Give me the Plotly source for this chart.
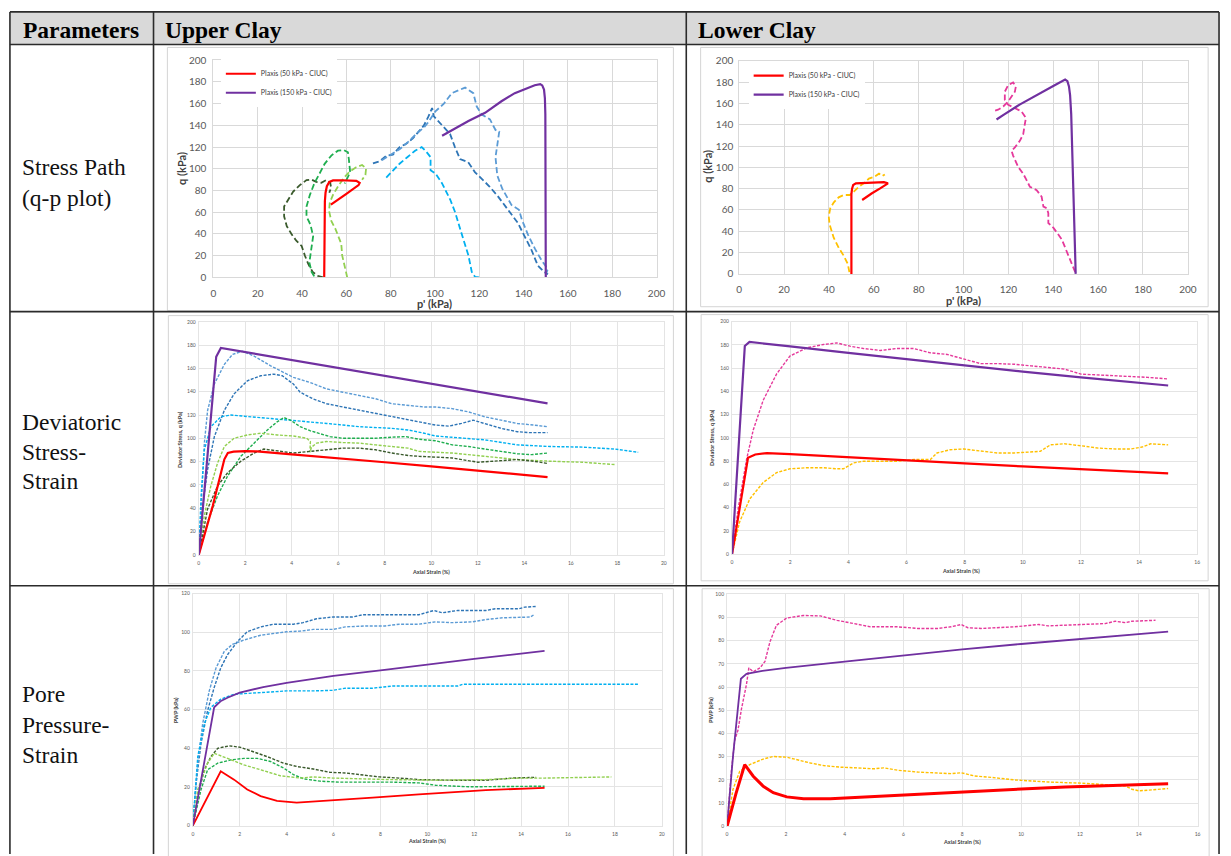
import plotly.graph_objects as go

W, H = 1231, 856

# ---------------- Upper Clay : stress path (p', q) ----------------
up_sp_plaxis50_p = [50, 50, 50, 50.1, 50.3, 50.6, 51.2, 52.3, 54, 58, 62, 64.5, 66, 65.5, 60, 56, 53]
up_sp_plaxis50_q = [0, 20, 40, 60, 70, 78, 84, 88, 89.3, 89.5, 89.5, 89, 87, 85, 77, 71, 67]
up_sp_plaxis150_p = [150, 150, 150, 149.9, 149.8, 149.6, 149.2, 148.4, 147.5, 145, 141.9, 136, 130, 122.6, 115.1, 107.6, 103.2]
up_sp_plaxis150_q = [0, 40, 80, 120, 150, 165, 173, 176.8, 178, 177, 174.3, 169.7, 162.2, 151.6, 144, 135, 130.4]
up_sp_dkgreen_p = [49.5, 47, 44.8, 42.8, 41.3, 39.8, 37.5, 35.3, 33.1, 31.9, 31.9, 33.8, 36.0, 39.0, 42.0, 44.2, 46.4, 48.7, 50.9, 52.7, 53.1, 52.3]
up_sp_dkgreen_q = [0, 1.5, 5, 12.4, 20, 29, 33.6, 39.7, 47.2, 56.3, 65.4, 71.4, 79, 85, 89.6, 90.2, 88, 87.1, 89.6, 87.1, 82.9, 78]
up_sp_green_p = [45.5, 44.3, 43.3, 44.3, 45.0, 43.8, 42.0, 42.0, 43.5, 45.5, 47.7, 50.2, 53.2, 56.2, 58.9, 60.7, 61.1, 61.4, 61.7, 60.7, 59.2]
up_sp_green_q = [1, 5, 13.8, 25.9, 38, 48.6, 56.1, 65.2, 75.8, 86.4, 95.5, 104.6, 112.2, 116.7, 117.3, 115.2, 109.1, 101.6, 97.1, 92.5, 86.5]
up_sp_ltgreen_p = [60.4, 59.3, 58.1, 57.7, 56.6, 55.1, 53.2, 52.2, 52.5, 54.0, 56.2, 58.8, 61.4, 64.4, 67.1, 68.9, 68.6, 67.1]
up_sp_ltgreen_q = [0, 10.6, 20.3, 30.9, 36.9, 44.5, 52, 61.1, 68.7, 76.2, 83.8, 91.4, 97.4, 101.4, 103.5, 100.5, 94.4, 89.9]
up_sp_blue_p = [72, 75, 78, 81, 84, 87, 90, 93, 95, 97, 98.7, 99.4, 103, 106.8, 109, 111.3, 115, 118, 121, 124.7, 128.5, 133, 137.4, 140.4, 143.4, 146.4, 149.3, 151]
up_sp_blue_q = [105, 107, 112, 113, 120, 123, 128, 135, 140, 148, 156, 148.6, 141, 132, 120, 109, 106, 97, 91, 83.5, 74.4, 62.3, 50.2, 38, 26, 11, 5, 3]
up_sp_ltblue_p = [76, 80, 84, 88, 92, 95, 97, 100.2, 104, 107.6, 111, 113.6, 117.3, 118.8, 121.1, 124.8, 127.3, 129, 128.5, 127.3, 128.1, 130.3, 134.5, 137.9, 139.2, 141.9, 145.2, 148.2, 150.9, 150.1]
up_sp_ltblue_q = [108, 113, 118, 125, 133, 138, 143, 153, 160, 169.7, 173, 174.8, 169.7, 157.6, 150, 145.5, 135.8, 134.3, 127.3, 110.7, 94, 82, 66.8, 62.3, 53.2, 39.6, 26, 15.4, 7.8, 3]
up_sp_cyan_p = [78, 81, 84, 87.5, 91, 94, 96, 98, 98, 100.2, 103.2, 106.9, 109.2, 111.4, 113.6, 115.1, 116.6, 118.1, 120]
up_sp_cyan_q = [92, 98.6, 104.7, 110.7, 116.7, 120, 116, 110.8, 98.7, 95.7, 86.6, 71.5, 59.4, 44.3, 29.2, 20.1, 5, 0.5, 0]

# ---------------- Lower Clay : stress path (p', q) ----------------
lo_sp_plaxis50_p = [50, 50, 49.9, 50, 50.3, 50.8, 52, 56, 62, 64.5, 66.3, 63, 59, 54.8]
lo_sp_plaxis50_q = [0, 30, 60, 75, 80, 83.5, 85, 85.6, 86, 86.1, 85, 80.5, 75.5, 69.4]
lo_sp_plaxis150_p = [150, 149.5, 149, 148.5, 148, 147.5, 147, 146.3, 145.3, 140, 133, 125, 118, 114.7]
lo_sp_plaxis150_q = [0, 40, 80, 120, 150, 168, 176, 181, 182.5, 176.5, 168.5, 159, 149.5, 145]
lo_sp_orange_p = [49.1, 48.4, 46.6, 44.3, 42.1, 40.3, 39.9, 40.6, 42.1, 44.3, 46.6, 49.3, 51.1, 53.3, 56.3, 57.8, 60.1, 62.3, 63.8, 64.9]
lo_sp_orange_q = [1.6, 9.3, 17, 24.7, 34, 46.3, 54, 61.7, 67, 71.9, 74.1, 74.1, 77.2, 81.8, 86.4, 89.5, 91, 94.1, 91.9, 93.4]
lo_sp_magenta_p = [149.8, 146.8, 143.8, 140.1, 137.8, 137.8, 137.1, 135.6, 134.8, 132.6, 129.6, 128.1, 126.6, 124.4, 122.9, 122.1, 121.4, 122.9, 125.1, 126.6, 127.3, 127.8, 125.8, 122.9, 119.9, 118.4, 118.4, 119.9, 122.1, 123.3, 122.9, 121.4, 119.9, 117.7, 115.4, 113.2]
lo_sp_magenta_q = [1.6, 17, 32.4, 43.2, 47.8, 57, 61.7, 63.2, 72.5, 78.7, 81.8, 88, 94.1, 100.3, 106.5, 111.1, 115.7, 118.8, 124.9, 131.1, 140.3, 146.5, 152.6, 155.7, 158.8, 163.4, 171.1, 177.3, 179.8, 175.8, 171.1, 166.5, 161.9, 157.2, 154.2, 152.6]

# ---------------- Upper Clay : deviator stress vs axial strain ----------------
up_ds_plaxis50_e = [0, 0.3, 0.6, 0.9, 1.1, 1.25, 1.5, 2, 2.5, 4, 6, 8, 10, 12, 15]
up_ds_plaxis50_q = [0, 20, 42, 66, 82, 87.5, 88.6, 89, 88.8, 86.3, 83.2, 79.5, 76, 72.2, 66.8]
up_ds_plaxis150_e = [0, 0.3, 0.6, 0.75, 0.95, 2, 4, 6, 8, 10, 12, 15]
up_ds_plaxis150_q = [0, 70, 140, 170, 177.5, 174, 167.2, 160.5, 153.8, 147, 140.3, 130]
up_ds_ltblue_e = [0, 0.1, 0.24, 0.38, 0.67, 1.1, 1.45, 1.88, 2.38, 3.09, 3.8, 4.07, 4.78, 5.5, 6.2, 6.91, 7.6, 8.3, 9.0, 9.7, 10.18, 10.89, 11.6, 12.3, 13.0, 13.7, 14.4, 15]
up_ds_ltblue_q = [0, 39.5, 95.9, 124, 146.6, 163.5, 172, 174.8, 170.6, 162.2, 155.1, 152.3, 148, 142.4, 139.6, 136.8, 134, 129.7, 128.3, 126.9, 126.9, 125.5, 122.7, 118.5, 115.6, 112.8, 111.4, 110]
up_ds_blue_e = [0, 0.15, 0.38, 0.67, 1.1, 1.52, 2.09, 2.66, 3.23, 3.59, 4.07, 4.36, 4.9, 5.5, 6.2, 6.9, 7.6, 8.3, 9.0, 9.7, 10.18, 10.75, 11.3, 11.8, 12.3, 13.0, 13.7, 14.2, 15]
up_ds_blue_q = [0, 39.5, 73.3, 101.5, 124.1, 138.2, 149.4, 153.7, 155.1, 153.7, 146.6, 139.6, 134, 129.7, 126.9, 124.1, 121.3, 119, 115.6, 112.8, 111.4, 110.5, 112.8, 115.6, 112.8, 108.6, 105.7, 104.9, 104.9]
up_ds_cyan_e = [0, 0.1, 0.24, 0.52, 0.95, 1.38, 1.95, 2.66, 3.37, 4.07, 4.78, 5.5, 6.2, 6.9, 8.3, 9.0, 9.7, 10.18, 10.9, 12.3, 13.7, 15.1, 16.5, 17.9, 18.9]
up_ds_cyan_q = [0, 50.8, 90.2, 110, 118.5, 120, 119, 117.8, 117, 115.6, 114.2, 112.8, 111.4, 110, 108.6, 107.2, 104.4, 102, 100.9, 98.7, 94.4, 93, 92.5, 90.8, 88]
up_ds_green_e = [0, 0.38, 0.81, 1.24, 1.81, 2.38, 2.95, 3.37, 3.66, 3.94, 4.36, 4.78, 5.2, 5.64, 6.2, 6.9, 7.6, 8.3, 8.9, 9.47, 10.18, 10.9, 11.6, 12.3, 13.0, 13.7, 14.3, 15]
up_ds_green_q = [0, 28.2, 50.8, 67.7, 84.6, 95.9, 107.2, 114.2, 117.8, 115.6, 110, 106.6, 104.4, 101.5, 100.1, 100.1, 100.1, 101, 101.5, 99.2, 98, 94.4, 93, 90.8, 88.8, 86.8, 86, 87.4]
up_ds_ltgreen_e = [0, 0.24, 0.52, 0.81, 1.1, 1.52, 2.09, 2.66, 3.37, 4.07, 4.64, 4.8, 4.78, 4.85, 5.07, 5.5, 6.2, 6.9, 7.6, 8.3, 9.0, 9.47, 10.9, 12.3, 13.7, 15.1, 16.5, 17.9]
up_ds_ltgreen_q = [0, 33.8, 59.2, 78.9, 93, 100.1, 102.9, 104.4, 102.9, 102, 100.1, 97.3, 88, 92.5, 95.9, 97.3, 96.4, 95.9, 94.4, 93, 91.6, 88.8, 87.4, 84.6, 81.8, 80.4, 79.5, 77.5]
up_ds_dkgreen_e = [0, 0.38, 0.81, 1.24, 1.81, 2.38, 2.8, 3.23, 3.66, 4.07, 4.78, 5.5, 6.2, 6.9, 7.6, 8.3, 9.0, 9.47, 10.9, 12.0, 13.0, 13.7, 14.4, 15]
up_ds_dkgreen_q = [0, 39.5, 59.2, 70.5, 80.4, 87.4, 90.8, 89.6, 88, 87.4, 88.8, 90.2, 91.6, 91.6, 90.2, 87.4, 85.3, 84.6, 83.2, 79.5, 81.2, 81.8, 80.4, 78.4]

# ---------------- Lower Clay : deviator stress vs axial strain ----------------
lo_ds_plaxis50_e = [0, 0.2, 0.4, 0.55, 0.8, 1.2, 2, 4, 6, 8, 10, 12, 15]
lo_ds_plaxis50_q = [0, 30, 63, 82.8, 85.7, 86.9, 86, 83.2, 80.5, 78, 75.5, 73, 69.5]
lo_ds_plaxis150_e = [0, 0.2, 0.44, 0.6, 1, 2, 4, 6, 8, 10, 12, 14, 15]
lo_ds_plaxis150_q = [0, 85, 179, 182.5, 181.5, 178.6, 173, 167.5, 161.9, 157, 152, 147.5, 145]
lo_ds_magenta_e = [0, 0.21, 0.5, 0.73, 1.07, 1.53, 1.99, 2.57, 3.14, 3.6, 4.06, 4.52, 5.1, 5.67, 6.25, 6.82, 7.4, 7.97, 8.55, 9.13, 9.7, 10.28, 10.85, 11.43, 12.0, 12.6, 13.2, 13.7, 14.3, 15]
lo_ds_magenta_q = [0, 39, 81.4, 106.8, 132.2, 154.8, 170.3, 177.4, 180.2, 181.6, 178.8, 176.8, 175.1, 176.8, 176.8, 173.1, 171.7, 167.5, 163.8, 163.8, 163.3, 161.9, 160.5, 159.1, 154.8, 154.2, 153.4, 152.5, 152, 150.6]
lo_ds_orange_e = [0, 0.26, 0.61, 1.07, 1.53, 1.99, 2.57, 3.14, 3.6, 3.83, 4.18, 4.52, 5.1, 5.67, 6.25, 6.82, 7.05, 7.5, 7.97, 8.55, 9.13, 9.7, 10.28, 10.6, 10.95, 11.43, 12.0, 12.6, 13.2, 13.7, 14.1, 14.4, 15]
lo_ds_orange_q = [0, 27.7, 47.5, 61.6, 70.1, 73.4, 74.3, 74.3, 73.4, 73.4, 78.5, 79.9, 79.9, 79.9, 81.4, 81.4, 87, 89.8, 90.4, 88.4, 87, 87, 87.6, 88.4, 94, 94.9, 93.2, 91.2, 90.4, 90.4, 92.1, 94.9, 94]

# ---------------- Upper Clay : pore water pressure vs axial strain ----------------
up_pw_plaxis50_e = [0, 0.6, 1.19, 1.76, 2.32, 2.89, 3.59, 4.43, 5.7, 7.67, 9.64, 11.05, 12.5, 15]
up_pw_plaxis50_u = [0, 14, 28.1, 23.8, 18.7, 15.3, 12.8, 11.9, 12.8, 14.5, 16.2, 17.3, 18.4, 19.5]
up_pw_plaxis150_e = [0, 0.5, 0.91, 1.2, 1.5, 2, 3, 4, 5, 6, 8, 10, 12, 14, 15]
up_pw_plaxis150_u = [0, 34, 61.2, 64.5, 66.3, 68.8, 71.7, 73.9, 75.8, 77.5, 80.3, 83.4, 86.3, 89, 90.4]
up_pw_blue_e = [0, 0.14, 0.35, 0.63, 0.91, 1.19, 1.48, 1.9, 2.32, 2.89, 3.45, 4.29, 4.7, 5.27, 5.98, 6.8, 7.25, 8.5, 9.64, 10.28, 10.63, 11.3, 12.5, 12.9, 13.9, 14.15, 14.64]
up_pw_blue_u = [0, 22, 42.5, 59.5, 71.4, 81.6, 88.4, 95.2, 100.3, 102.8, 104.2, 104.2, 105, 107, 107.9, 107.9, 109.1, 109.1, 109.1, 111.3, 110.1, 111.3, 111.3, 112.2, 112.2, 113, 113.4]
up_pw_ltblue_e = [0, 0.21, 0.42, 0.7, 0.99, 1.34, 1.69, 2.18, 2.89, 3.45, 4.01, 4.58, 5.14, 5.98, 6.5, 7.4, 8.2, 8.8, 9.64, 10.35, 11.05, 11.9, 12.5, 13.2, 13.9, 14.4, 14.57]
up_pw_ltblue_u = [0, 32.4, 52.7, 69.7, 81.6, 90.1, 93.8, 96, 98.5, 99.4, 100.3, 100.6, 101.5, 101.5, 102.8, 103.3, 103.3, 104.2, 104.2, 105.4, 105, 105.4, 106.6, 107.5, 107.9, 107.9, 109.3]
up_pw_cyan_e = [0, 0.21, 0.49, 0.77, 1.19, 1.76, 2.89, 4.01, 5.14, 5.98, 6.5, 7.67, 8.5, 9.9, 11.3, 11.5, 15, 19]
up_pw_cyan_u = [0, 35.7, 52.7, 61.2, 65.4, 68, 68.8, 69.7, 69.7, 70, 71.1, 71.1, 72.2, 72.2, 72.2, 73.1, 73.1, 73.1]
up_pw_dkgreen_e = [0, 0.21, 0.49, 0.77, 1.06, 1.55, 2.04, 2.6, 3.17, 3.87, 4.43, 5.14, 5.84, 6.55, 7.25, 7.95, 8.8, 9.64, 11.05, 12.5, 13.6, 14.64]
up_pw_dkgreen_u = [0, 15.3, 28.9, 35.7, 40, 41.3, 40.5, 38.3, 35.7, 32.3, 30.6, 29.3, 27.6, 27.2, 26.3, 25.2, 24.6, 23.8, 23.5, 23.5, 24.6, 25]
up_pw_green_e = [0, 0.35, 0.63, 1.06, 1.62, 2.18, 2.75, 3.31, 3.87, 4.29, 4.72, 5.42, 6.27, 7.1, 8.5, 9.64, 10.35, 11.76, 13.9, 15]
up_pw_green_u = [0, 18.7, 28.9, 32.3, 34, 34.8, 34.8, 33.2, 29.8, 26.4, 24.2, 23, 22.5, 22.5, 22.5, 22.1, 20.9, 20.1, 20.1, 20.4]
up_pw_ltgreen_e = [0, 0.21, 0.63, 0.91, 1.48, 2.18, 2.89, 3.73, 4.58, 5.14, 5.98, 7.1, 8.5, 10.5, 12.5, 13.9, 15, 17.85]
up_pw_ltgreen_u = [0, 18.7, 32.3, 37.4, 34.8, 31.4, 28.9, 25.8, 24.6, 25.2, 24.6, 24.1, 23.8, 23.5, 23.8, 24.6, 24.6, 25.2]

# ---------------- Lower Clay : pore water pressure vs axial strain ----------------
lo_pw_plaxis50_e = [0, 0.3, 0.6, 0.89, 1.23, 1.57, 2.03, 2.6, 3.51, 4.65, 6.93, 9.22, 11.5, 15]
lo_pw_plaxis50_u = [0, 14, 26.6, 21.6, 17.3, 14.5, 12.7, 11.9, 11.9, 12.7, 14.2, 15.6, 17, 18.4]
lo_pw_plaxis150_e = [0, 0.2, 0.47, 0.66, 1.2, 2, 4, 6, 8, 10, 12, 14, 15]
lo_pw_plaxis150_u = [0, 30, 63.6, 65.7, 67, 68.3, 71, 73.7, 76.3, 78.6, 80.8, 82.9, 83.9]
lo_pw_magenta_e = [0, 0.15, 0.26, 0.37, 0.49, 0.66, 0.74, 0.89, 1.12, 1.29, 1.46, 1.68, 2.03, 2.6, 3.17, 3.74, 4.31, 4.88, 5.79, 6.48, 7.16, 7.62, 7.96, 8.19, 8.64, 9.79, 10.35, 10.6, 10.92, 12.08, 12.86, 13.2, 13.55, 13.77, 14.57]
lo_pw_magenta_u = [0, 24.4, 37.1, 41.4, 50.6, 61.2, 68.3, 66.6, 68.3, 71.1, 79.6, 86.7, 89.8, 90.9, 90.7, 88.8, 87.4, 86, 86, 85.3, 85.3, 86, 87, 85.6, 85.3, 86, 86.7, 87, 86.4, 87, 87.4, 88.4, 87.8, 88.4, 88.8]
lo_pw_orange_e = [0, 0.2, 0.43, 0.77, 1.23, 1.57, 2.03, 2.37, 2.83, 3.28, 3.85, 4.42, 4.99, 5.33, 5.79, 6.48, 7.16, 7.62, 7.96, 8.42, 8.99, 9.79, 10.92, 12.08, 13.2, 13.55, 13.77, 14.0, 14.35, 15]
lo_pw_orange_u = [0, 15.9, 23.7, 26.6, 29, 30.1, 29.8, 28.7, 27.3, 26.2, 25.5, 25.2, 24.8, 25.2, 24.2, 23.4, 22.8, 22.7, 23.1, 21.7, 21.1, 20, 19.1, 18.6, 17.7, 17.4, 16, 15.3, 15.6, 16.3]

# ---------------- Axis ticks and text ----------------
sp_ticks = list(range(0, 201, 20))
ds_q_ticks = list(range(0, 201, 20))
strain_ticks_upper = list(range(0, 21, 2))
strain_ticks_lower = list(range(0, 17, 2))
pw_ticks_upper = list(range(0, 121, 20))
pw_ticks_lower = list(range(0, 101, 10))

header_labels = ["Parameters", "Upper Clay", "Lower Clay"]
row_labels = [["Stress Path", "(q-p plot)"],
              ["Deviatoric", "Stress-", "Strain"],
              ["Pore", "Pressure-", "Strain"]]
legend_names = ["Plaxis (50 kPa - CIUC)", "Plaxis (150 kPa - CIUC)"]

RED = "#ff0000"
PURPLE = "#7030a0"
DKGREEN = "#3a5a2c"
GREEN = "#1fae4f"
LTGREEN = "#92d050"
BLUE = "#2e75b6"
LTBLUE = "#5b9bd5"
CYAN = "#00b0f0"
ORANGE = "#ffc000"
MAGENTA = "#e5399b"


def px(x):
    return x / W


def py(y):
    return 1 - y / H


fig = go.Figure()


def add(x, y, color, width, dash, n, name=None, legend=None):
    suffix = "" if n == 1 else str(n)
    fig.add_trace(go.Scatter(
        x=x, y=y, mode="lines", xaxis="x" + suffix, yaxis="y" + suffix,
        line=dict(color=color, width=width, dash=dash),
        name=name or "", showlegend=name is not None,
        legend=legend or "legend", hoverinfo="skip"))


SP_DASH = "6px,3px"
ST_DASH = "3px,1.5px"

# panel 1: upper clay stress path
add(up_sp_dkgreen_p, up_sp_dkgreen_q, DKGREEN, 1.8, SP_DASH, 1)
add(up_sp_green_p, up_sp_green_q, GREEN, 1.8, SP_DASH, 1)
add(up_sp_ltgreen_p, up_sp_ltgreen_q, LTGREEN, 1.8, SP_DASH, 1)
add(up_sp_blue_p, up_sp_blue_q, BLUE, 1.8, SP_DASH, 1)
add(up_sp_ltblue_p, up_sp_ltblue_q, LTBLUE, 1.8, SP_DASH, 1)
add(up_sp_cyan_p, up_sp_cyan_q, CYAN, 1.8, SP_DASH, 1)
add(up_sp_plaxis50_p, up_sp_plaxis50_q, RED, 2.2, "solid", 1, legend_names[0], "legend")
add(up_sp_plaxis150_p, up_sp_plaxis150_q, PURPLE, 2.2, "solid", 1, legend_names[1], "legend")

# panel 2: lower clay stress path
add(lo_sp_orange_p, lo_sp_orange_q, ORANGE, 1.8, SP_DASH, 2)
add(lo_sp_magenta_p, lo_sp_magenta_q, MAGENTA, 1.8, SP_DASH, 2)
add(lo_sp_plaxis50_p, lo_sp_plaxis50_q, RED, 2.2, "solid", 2, legend_names[0], "legend2")
add(lo_sp_plaxis150_p, lo_sp_plaxis150_q, PURPLE, 2.2, "solid", 2, legend_names[1], "legend2")

# panel 3: upper clay deviator stress
add(up_ds_ltblue_e, up_ds_ltblue_q, LTBLUE, 1.4, ST_DASH, 3)
add(up_ds_blue_e, up_ds_blue_q, BLUE, 1.4, ST_DASH, 3)
add(up_ds_cyan_e, up_ds_cyan_q, CYAN, 1.4, ST_DASH, 3)
add(up_ds_green_e, up_ds_green_q, GREEN, 1.4, ST_DASH, 3)
add(up_ds_ltgreen_e, up_ds_ltgreen_q, LTGREEN, 1.4, ST_DASH, 3)
add(up_ds_dkgreen_e, up_ds_dkgreen_q, DKGREEN, 1.4, ST_DASH, 3)
add(up_ds_plaxis50_e, up_ds_plaxis50_q, RED, 2.2, "solid", 3)
add(up_ds_plaxis150_e, up_ds_plaxis150_q, PURPLE, 2.2, "solid", 3)

# panel 4: lower clay deviator stress
add(lo_ds_magenta_e, lo_ds_magenta_q, MAGENTA, 1.4, ST_DASH, 4)
add(lo_ds_orange_e, lo_ds_orange_q, ORANGE, 1.4, ST_DASH, 4)
add(lo_ds_plaxis50_e, lo_ds_plaxis50_q, RED, 2.2, "solid", 4)
add(lo_ds_plaxis150_e, lo_ds_plaxis150_q, PURPLE, 2.2, "solid", 4)

# panel 5: upper clay pore pressure
add(up_pw_blue_e, up_pw_blue_u, BLUE, 1.4, ST_DASH, 5)
add(up_pw_ltblue_e, up_pw_ltblue_u, LTBLUE, 1.4, ST_DASH, 5)
add(up_pw_cyan_e, up_pw_cyan_u, CYAN, 1.4, ST_DASH, 5)
add(up_pw_dkgreen_e, up_pw_dkgreen_u, DKGREEN, 1.4, ST_DASH, 5)
add(up_pw_green_e, up_pw_green_u, GREEN, 1.4, ST_DASH, 5)
add(up_pw_ltgreen_e, up_pw_ltgreen_u, LTGREEN, 1.4, ST_DASH, 5)
add(up_pw_plaxis50_e, up_pw_plaxis50_u, RED, 1.8, "solid", 5)
add(up_pw_plaxis150_e, up_pw_plaxis150_u, PURPLE, 1.8, "solid", 5)

# panel 6: lower clay pore pressure
add(lo_pw_magenta_e, lo_pw_magenta_u, MAGENTA, 1.4, ST_DASH, 6)
add(lo_pw_orange_e, lo_pw_orange_u, ORANGE, 1.4, ST_DASH, 6)
add(lo_pw_plaxis150_e, lo_pw_plaxis150_u, PURPLE, 1.8, "solid", 6)
add(lo_pw_plaxis50_e, lo_pw_plaxis50_u, RED, 3.0, "solid", 6)


def axis(rng, ticks, x0, x1, anchor, size, grid, standoff):
    return dict(range=rng, tickvals=ticks, domain=[x0, x1], anchor=anchor,
                showgrid=True, gridcolor=grid, gridwidth=1, zeroline=False,
                showline=True, linecolor=grid, linewidth=1, mirror=True,
                ticks="", ticklabelstandoff=standoff,
                tickfont=dict(size=size, color="#595959", family="Lato"),
                fixedrange=True)


GRID_SP = "#d9d9d9"
GRID_ST = "#e4e4e4"

# plot-area pixel boxes: (left, right, top, bottom)
boxes = {
    1: (212.5, 660, 55, 275.3),
    2: (743.5, 1196.5, 55.7, 271.7),
    3: (197.7, 667.3, 320.3, 556.7),
    4: (736.2, 1206, 320, 556),
    5: (191.7, 665.3, 596, 831.3),
    6: (731.2, 1206.3, 596.7, 832),
}
xspec = {1: ([0, 200], sp_ticks, 10, GRID_SP, 7), 2: ([0, 200], sp_ticks, 10, GRID_SP, 6),
         3: ([0, 20], strain_ticks_upper, 5, GRID_ST, 3), 4: ([0, 16], strain_ticks_lower, 5, GRID_ST, 3),
         5: ([0, 20], strain_ticks_upper, 5, GRID_ST, 3), 6: ([0, 16], strain_ticks_lower, 5, GRID_ST, 3)}
yspec = {1: ([0, 200], sp_ticks, 10, GRID_SP, 4), 2: ([0, 200], sp_ticks, 10, GRID_SP, 3),
         3: ([0, 200], ds_q_ticks, 5, GRID_ST, 1), 4: ([0, 200], ds_q_ticks, 5, GRID_ST, 1),
         5: ([0, 120], pw_ticks_upper, 5, GRID_ST, 1), 6: ([0, 100], pw_ticks_lower, 5, GRID_ST, 1)}

layout_axes = {}
for n, (l, r, t, b) in boxes.items():
    s = "" if n == 1 else str(n)
    xr, xt, xs, xg, xo = xspec[n]
    yr, yt, ys, yg, yo = yspec[n]
    layout_axes["xaxis" + s] = axis(xr, xt, px(l), px(r), "y" + s, xs, xg, xo)
    layout_axes["yaxis" + s] = axis(yr, yt, py(b), py(t), "x" + s, ys, yg, yo)

shapes = []
LINE = dict(color="#2b2b2b", width=1.6)
TL, TR, TT = 7, 1228, 6
# header background
shapes.append(dict(type="rect", xref="paper", yref="paper", x0=px(TL), x1=px(TR), y0=py(39), y1=py(TT),
                   fillcolor="#d9d9d9", line=dict(width=0), layer="below"))
# table rules
for yv in (TT, 39, 310, 588):
    shapes.append(dict(type="line", xref="paper", yref="paper", x0=px(TL), x1=px(TR), y0=py(yv), y1=py(yv), line=LINE))
for xv in (TL, 152, 690, TR):
    shapes.append(dict(type="line", xref="paper", yref="paper", x0=px(xv), x1=px(xv), y0=py(860), y1=py(TT), line=LINE))
# chart frames
for (l, r, t, b) in [(166, 677, 42, 309), (704.5, 1217, 42, 305), (167, 677, 314, 586),
                     (705, 1217, 313, 583), (167, 677, 591, 870), (706, 1218, 591, 870)]:
    shapes.append(dict(type="rect", xref="paper", yref="paper", x0=px(l), x1=px(r), y0=py(b), y1=py(t),
                       line=dict(color="#d4d4d4", width=1), layer="below"))

ann = []
SERIF = "Liberation Serif, Times New Roman, serif"
for txt, xv in zip(header_labels, (18, 162, 700)):
    ann.append(dict(text="<b>%s</b>" % txt, x=px(xv), y=py(24), xref="paper", yref="paper",
                    xanchor="left", yanchor="middle", showarrow=False,
                    font=dict(family=SERIF, size=23.5, color="#000")))
row_y = [[163, 195], [422, 452, 482], [698, 729, 760]]
for lines, ys in zip(row_labels, row_y):
    for txt, yv in zip(lines, ys):
        ann.append(dict(text=txt, x=px(17), y=py(yv), xref="paper", yref="paper",
                        xanchor="left", yanchor="middle", showarrow=False,
                        font=dict(family=SERIF, size=23.5, color="#111")))


def title(txt, x, y, size, angle=0):
    ann.append(dict(text="<b>%s</b>" % txt, x=px(x), y=py(y), xref="paper", yref="paper",
                    xanchor="center", yanchor="middle", showarrow=False, textangle=angle,
                    font=dict(family="Lato", size=size, color="#404040")))


title("q (kPa)", 180, 165, 11, -90)
title("p' (kPa)", 436, 302, 11)
title("q (kPa)", 712, 163, 11, -90)
title("p' (kPa)", 970, 299, 11)
title("Deviator Stress, q (kPa)", 179, 440, 5.5, -90)
title("Axial Strain (%)", 432, 574, 5.5)
title("Deviator Stress, q (kPa)", 716, 438, 5.5, -90)
title("Axial Strain (%)", 967, 573, 5.5)
title("PWP (kPa)", 175, 714, 5.5, -90)
title("Axial Strain (%)", 428, 847, 5.5)
title("PWP (kPa)", 715, 714, 5.5, -90)
title("Axial Strain (%)", 968, 848, 5.5)

LEG = dict(xanchor="left", yanchor="top", bgcolor="white", borderwidth=0,
           font=dict(size=7, family="Lato", color="#404040"), tracegroupgap=0, itemwidth=30)
fig.update_layout(
    width=W, height=H, margin=dict(l=0, r=0, t=0, b=0),
    paper_bgcolor="white", plot_bgcolor="white",
    shapes=shapes, annotations=ann,
    legend=dict(x=px(220), y=py(54), **LEG),
    legend2=dict(x=px(753), y=py(56), **LEG),
    **layout_axes,
)

fig.write_html("out.html")
